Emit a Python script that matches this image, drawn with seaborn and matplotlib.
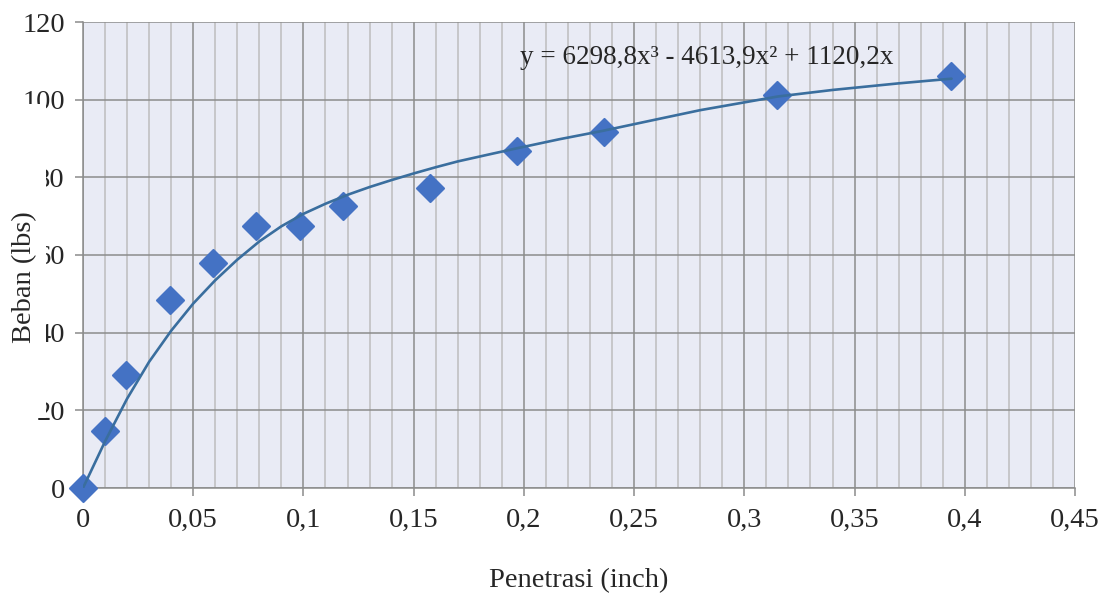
import matplotlib
matplotlib.use("Agg")
import matplotlib.pyplot as plt
import seaborn as sns
from matplotlib.patches import Rectangle
from matplotlib.ticker import MultipleLocator, FuncFormatter

# penetration (inch) and load (lbs)
penetrasi = [0.0, 0.0098, 0.0197, 0.0394, 0.0591, 0.0787, 0.0984, 0.1181, 0.1575, 0.1969, 0.2362, 0.315, 0.3937]
beban = [0.0, 14.7, 29.1, 48.4, 57.9, 67.5, 67.5, 72.6, 77.3, 86.8, 91.7, 101.2, 106.1]

# trendline as drawn in the source chart
trend_x = [0.0, 0.01, 0.02, 0.03, 0.04, 0.05, 0.06, 0.07, 0.08, 0.09, 0.10, 0.11, 0.12, 0.13,
           0.14, 0.15, 0.16, 0.17, 0.185, 0.197, 0.216, 0.236, 0.26, 0.28, 0.315, 0.34, 0.37, 0.394]
trend_y = [0.0, 12.0, 23.0, 32.5, 40.5, 47.5, 53.5, 58.8, 63.5, 67.4, 70.6, 73.2, 75.5, 77.5,
           79.3, 81.0, 82.6, 84.1, 86.0, 87.5, 89.8, 92.0, 94.9, 97.3, 100.8, 102.5, 104.2, 105.4]

equation = "y = 6298,8x³ - 4613,9x² + 1120,2x"

sns.set_style("whitegrid")
plt.rcParams["font.family"] = ["Liberation Serif", "DejaVu Serif"]

fig = plt.figure(figsize=(11.07, 5.95), dpi=100)
ax = fig.add_axes([83 / 1107, 1 - 488 / 595, (1075 - 83) / 1107, (488 - 22) / 595])
ax.set_facecolor("#E9EBF5")

sns.lineplot(x=trend_x, y=trend_y, color="#3A6E9E", linewidth=1.9, zorder=4, ax=ax)
sns.scatterplot(x=penetrasi, y=beban, marker="D", s=190, color="#4472C4",
                edgecolor="#4472C4", linewidth=1.5, zorder=3, ax=ax, clip_on=False)
ax.collections[-1].set_joinstyle("round")

ax.set_xlim(0, 0.45)
ax.set_ylim(0, 120)
ax.xaxis.set_major_locator(MultipleLocator(0.05))
ax.xaxis.set_minor_locator(MultipleLocator(0.01))
ax.yaxis.set_major_locator(MultipleLocator(20))
ax.xaxis.set_major_formatter(FuncFormatter(lambda v, p: ("%g" % round(v, 2)).replace(".", ",")))

ax.grid(which="major", axis="x", color="#8C8C8C", linewidth=1.1)
ax.grid(which="minor", axis="x", color="#BDBDBD", linewidth=1.1)
ax.grid(which="major", axis="y", color="#8C8C8C", linewidth=1.1)
ax.set_axisbelow(True)

for side in ["top", "right"]:
    ax.spines[side].set_visible(False)
for side in ["left", "bottom"]:
    ax.spines[side].set_color("#8C8C8C")
    ax.spines[side].set_linewidth(1.1)

ax.tick_params(axis="both", which="major", labelsize=20.5, length=6, width=1.1,
               color="#8C8C8C", direction="out", left=True, bottom=True)
ax.tick_params(axis="x", pad=8.5)
ax.tick_params(axis="y", pad=7)

ax.text(0.1982, 110.8, equation, fontsize=19.5, va="center", ha="left")

ax.set_xlabel("Penetrasi (inch)", fontsize=20.5, labelpad=25)
ax.set_ylabel("")

# white box behind the y label, covering part of the tick labels as in the source
fig.patches.append(Rectangle((0, 1 - 418 / 595), 46 / 1107, (418 - 104) / 595,
                             transform=fig.transFigure, facecolor="white",
                             edgecolor="none", zorder=5))
fig.text(25 / 1107, 1 - 277 / 595, "Beban (lbs)", rotation=90, fontsize=20.5,
         ha="center", va="center", zorder=6)

fig.savefig("out.png", dpi=100)
